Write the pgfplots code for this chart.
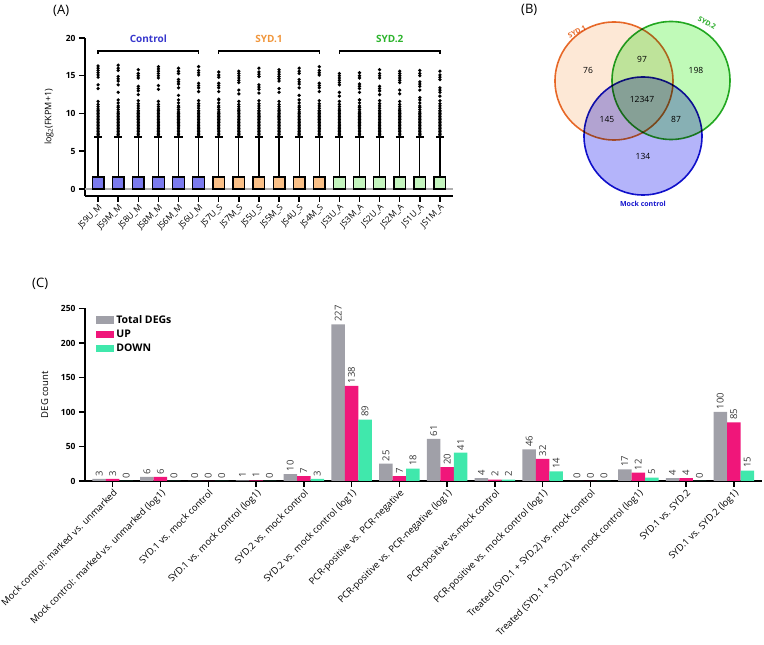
\documentclass[border=0pt]{standalone}
\usepackage{pgfplots}
\usepackage{pgfplotstable}
\usepackage{fontspec}
\setmainfont{Open Sans}
\setsansfont{Open Sans}
\pgfplotsset{compat=1.18}
\usepgfplotslibrary{statistics}
\pgfkeys{/pgf/number format/assume math mode=true}

\definecolor{boxctrl}{RGB}{122,122,238}
\definecolor{boxsyda}{RGB}{250,192,135}
\definecolor{boxsydb}{RGB}{196,245,190}
\definecolor{labctrl}{RGB}{55,55,205}
\definecolor{labsyda}{RGB}{240,150,60}
\definecolor{labsydb}{RGB}{45,180,45}
\definecolor{vennor}{RGB}{232,110,45}
\definecolor{venngr}{RGB}{40,170,40}
\definecolor{vennbl}{RGB}{20,20,205}
\definecolor{fillor}{RGB}{253,232,214}
\definecolor{fillgr}{RGB}{192,250,184}
\definecolor{fillbl}{RGB}{180,180,250}
\definecolor{degtot}{RGB}{160,160,168}
\definecolor{degup}{RGB}{240,22,122}
\definecolor{degdown}{RGB}{64,232,172}
\definecolor{zeroline}{RGB}{175,175,175}
\definecolor{vallab}{RGB}{55,55,55}

\pgfplotsset{
  gpaxis/.style={
    scale only axis, axis lines=left,
    axis line style={-, line width=1.5pt},
    tick align=outside, major tick length=6pt,
    every tick/.style={black, line width=1.5pt},
    yticklabel style={font=\fontsize{8.5}{10}\selectfont\bfseries},
    clip=false,
  },
  sample/.style 2 args={
    boxplot/draw direction=y,
    boxplot prepared={draw position=#1, lower whisker=0, lower quartile=0,
      median=0, upper quartile=1.6, upper whisker=6.9,
      box extend=0.58, whisker extend=0.4},
    draw=black, line width=1.3pt, fill=#2,
    mark=*, mark size=0.9pt, mark options={fill=black, draw=none},
  },
  degbar/.style={fill=#1, draw=none,
    legend image code/.code={\fill[#1] (0pt,-3.7pt) rectangle (18pt,3.7pt);}},
  venn/.style 2 args={only marks, mark=*, mark size=59pt,
    mark options={fill=#1, draw=#2, line width=1.6pt, blend mode=multiply}},
}

% outliers of each sample (columns b1..b18), log2(FKPM+1)
\pgfplotstableread{
b1 b2 b3 b4 b5 b6 b7 b8 b9 b10 b11 b12 b13 b14 b15 b16 b17 b18
7.0 7.0 7.0 7.0 7.0 7.0 7.0 7.0 7.0 7.0 7.0 7.0 7.0 7.0 7.0 7.0 7.0 7.0
7.2 7.2 7.2 7.2 7.2 7.2 7.2 7.2 7.2 7.2 7.2 7.2 7.2 7.2 7.2 7.2 7.2 7.2
7.4 7.4 7.4 7.4 7.4 7.4 7.4 7.4 7.4 7.4 7.4 7.4 7.4 7.4 7.4 7.4 7.4 7.4
7.6 7.6 7.6 7.6 7.6 7.6 7.6 7.6 7.6 7.6 7.6 7.6 7.6 7.6 7.6 7.6 7.6 7.6
7.8 7.8 7.8 7.8 7.8 7.8 7.8 7.8 7.8 7.8 7.8 7.8 7.8 7.8 7.8 7.8 7.8 7.8
8.0 8.0 8.0 8.0 8.0 8.0 8.0 8.0 8.0 8.0 8.0 8.0 8.0 8.0 8.0 8.0 8.0 8.0
8.2 8.2 8.2 8.2 8.2 8.2 8.2 8.2 8.2 8.2 8.2 8.2 8.2 8.2 8.2 8.2 8.2 8.2
8.4 8.4 8.4 8.4 8.4 8.4 8.4 8.4 8.4 8.4 8.4 8.4 8.4 8.4 8.4 8.4 8.4 8.4
8.6 8.6 8.6 8.6 8.6 8.6 8.6 8.6 8.6 8.6 8.6 8.6 8.6 8.6 8.6 8.6 8.6 8.6
8.8 8.8 8.8 8.8 8.8 8.8 8.8 8.8 8.8 8.8 8.8 8.8 8.8 8.8 8.8 8.8 8.8 8.8
9.0 9.0 9.0 9.0 9.0 9.0 9.0 9.0 9.0 9.0 9.0 9.0 9.0 9.0 9.0 9.0 9.0 9.0
9.2 9.2 9.2 9.2 9.2 9.2 9.2 9.2 9.2 9.2 9.2 9.2 9.2 9.2 9.2 9.2 9.2 9.2
9.4 9.4 9.4 9.4 9.4 9.4 9.4 9.4 9.4 9.4 9.4 9.4 9.4 9.4 9.4 9.4 9.4 9.4
9.6 9.6 9.6 9.6 9.6 9.6 9.6 9.6 9.6 9.6 9.6 9.6 9.6 9.6 9.6 9.6 9.6 9.6
9.8 9.8 9.8 9.8 9.8 9.8 9.8 9.8 9.8 9.8 9.8 9.8 9.8 9.8 9.8 9.8 9.8 9.8
10.0 10.0 10.0 10.0 10.0 10.0 10.0 10.0 10.0 10.0 10.0 10.0 10.0 10.0 10.0 10.0 10.0 10.0
10.2 10.2 10.2 10.2 10.2 10.2 10.2 10.2 10.2 10.2 10.2 10.2 10.2 10.2 10.2 10.2 10.2 10.2
10.4 10.5 10.4 10.4 10.5 10.4 10.5 10.4 10.4 10.4 10.5 10.4 10.4 10.5 10.4 10.4 10.5 10.4
10.6 10.8 10.7 10.6 10.8 10.7 10.8 10.6 10.7 10.6 10.8 10.7 10.6 10.8 10.7 10.6 10.8 10.7
10.9 11.0 11.0 10.9 11.0 11.0 11.0 10.9 11.0 10.9 11.0 11.0 10.9 11.0 11.0 10.9 11.0 11.0
11.2 11.4 11.3 11.2 11.4 11.3 11.4 11.2 11.3 11.2 11.4 11.3 11.2 11.4 11.3 11.2 11.4 11.3
11.6 11.8 11.7 11.6 11.8 11.7 11.8 11.6 11.7 11.6 11.8 11.7 11.6 11.8 11.7 11.6 11.8 11.7
13.3 12.8 12.5 13.2 12.4 12.9 11.9 12.6 12.7 12.8 12.4 12.9 12.3 11.8 12.5 12.6 12.1 12.3
13.8 13.8 13.0 13.7 13.4 13.4 12.9 13.1 13.2 13.3 13.4 13.4 12.8 12.8 13.0 13.1 13.1 12.8
14.8 14.3 13.3 14.7 13.9 13.7 13.4 14.1 13.5 14.3 13.9 13.7 13.8 13.3 13.3 14.1 13.6 13.1
15.1 14.6 13.6 15.0 14.2 14.0 13.7 14.4 13.8 14.6 14.2 14.0 14.1 13.6 13.6 14.4 13.9 13.4
15.4 14.9 14.7 15.3 14.5 15.1 14.0 14.7 14.9 14.9 14.5 15.1 14.4 13.9 14.7 14.7 14.2 14.5
15.7 15.7 15.0 15.6 15.3 15.4 14.8 15.0 15.2 15.2 15.3 15.4 14.7 14.7 15.0 15.0 15.0 14.8
16.0 16.0 15.3 15.9 15.6 15.7 15.1 15.3 15.5 15.5 15.6 15.7 15.0 15.0 15.3 15.3 15.3 15.1
16.3 16.4 15.8 16.2 16.0 16.2 15.5 15.6 16.0 15.8 16.0 16.2 15.3 15.4 15.8 15.6 15.7 15.6
}\outliers

% DEG counts per comparison
\pgfplotstableread{
x total up down
0 3 3 0
1 6 6 0
2 0 0 0
3 1 1 0
4 10 7 3
5 227 138 89
6 25 7 18
7 61 20 41
8 4 2 2
9 46 32 14
10 0 0 0
11 17 12 5
12 4 4 0
13 100 85 15
}\degs

\begin{document}
\begin{tikzpicture}
\useasboundingbox (0pt,0pt) rectangle (764pt,645pt);

% ---------- (A) expression box plots ----------
\begin{axis}[gpaxis,
  at={(85pt,449pt)}, anchor=south west,
  width=368pt, height=158pt,
  xmin=0.35, xmax=18.65, ymin=-0.93, ymax=20,
  ytick={0,5,10,15,20},
  xtick={1,...,18},
  xticklabels={JS9U\_M,JS9M\_M,JS8U\_M,JS8M\_M,JS6M\_M,JS6U\_M,
    JS7U\_S,JS7M\_S,JS5U\_S,JS5M\_S,JS4U\_S,JS4M\_S,
    JS3U\_A,JS3M\_A,JS2U\_A,JS2M\_A,JS1U\_A,JS1M\_A},
  xticklabel style={rotate=45, anchor=north east, inner sep=1pt,
    font=\fontsize{8.5}{10}\selectfont},
  ylabel={log\textsubscript{2}(FKPM+1)},
  ylabel style={at={(axis description cs:-0.076,0.5)}, anchor=south,
    font=\fontsize{9}{11}\selectfont},
]
\addplot[zeroline, line width=2.5pt] coordinates {(0.35,0) (18.65,0)};
\addplot[sample={1}{boxctrl}] table[y=b1] {\outliers};
\addplot[sample={2}{boxctrl}] table[y=b2] {\outliers};
\addplot[sample={3}{boxctrl}] table[y=b3] {\outliers};
\addplot[sample={4}{boxctrl}] table[y=b4] {\outliers};
\addplot[sample={5}{boxctrl}] table[y=b5] {\outliers};
\addplot[sample={6}{boxctrl}] table[y=b6] {\outliers};
\addplot[sample={7}{boxsyda}] table[y=b7] {\outliers};
\addplot[sample={8}{boxsyda}] table[y=b8] {\outliers};
\addplot[sample={9}{boxsyda}] table[y=b9] {\outliers};
\addplot[sample={10}{boxsyda}] table[y=b10] {\outliers};
\addplot[sample={11}{boxsyda}] table[y=b11] {\outliers};
\addplot[sample={12}{boxsyda}] table[y=b12] {\outliers};
\addplot[sample={13}{boxsydb}] table[y=b13] {\outliers};
\addplot[sample={14}{boxsydb}] table[y=b14] {\outliers};
\addplot[sample={15}{boxsydb}] table[y=b15] {\outliers};
\addplot[sample={16}{boxsydb}] table[y=b16] {\outliers};
\addplot[sample={17}{boxsydb}] table[y=b17] {\outliers};
\addplot[sample={18}{boxsydb}] table[y=b18] {\outliers};
% group brackets
\addplot[black, line width=1.5pt] coordinates {(1,17.9) (1,18.25) (6,18.25) (6,17.9)};
\addplot[black, line width=1.5pt] coordinates {(7,17.9) (7,18.25) (12,18.25) (12,17.9)};
\addplot[black, line width=1.5pt] coordinates {(13,17.9) (13,18.25) (18,18.25) (18,17.9)};
\node[font=\fontsize{10}{12}\selectfont\bfseries, text=labctrl] at (axis cs:3.5,19.9) {Control};
\node[font=\fontsize{10}{12}\selectfont\bfseries, text=labsyda] at (axis cs:9.5,19.9) {SYD.1};
\node[font=\fontsize{10}{12}\selectfont\bfseries, text=labsydb] at (axis cs:15.5,19.9) {SYD.2};
\end{axis}

% ---------- (B) Venn diagram ----------
\begin{axis}[
  at={(550pt,440pt)}, anchor=south west, scale only axis,
  width=190pt, height=190pt,
  xmin=550, xmax=740, ymin=15, ymax=205, y dir=reverse,
  hide axis, clip=false,
]
\addplot[venn={fillor}{vennor}] coordinates {(614,81)};
\addplot[venn={fillgr}{venngr}] coordinates {(671,80.5)};
\addplot[venn={fillbl}{vennbl}] coordinates {(643,136)};
\node[font=\fontsize{8.5}{10}\selectfont] at (axis cs:588,70) {76};
\node[font=\fontsize{8.5}{10}\selectfont] at (axis cs:642,59) {97};
\node[font=\fontsize{8.5}{10}\selectfont] at (axis cs:696,70) {198};
\node[font=\fontsize{8.5}{10}\selectfont] at (axis cs:642,99) {12347};
\node[font=\fontsize{8.5}{10}\selectfont] at (axis cs:607,119) {145};
\node[font=\fontsize{8.5}{10}\selectfont] at (axis cs:676,119) {87};
\node[font=\fontsize{8.5}{10}\selectfont] at (axis cs:643,156) {134};
\node[font=\fontsize{7}{8}\selectfont\bfseries, text=vennor, rotate=28] at (axis cs:577,32) {SYD.1};
\node[font=\fontsize{7}{8}\selectfont\bfseries, text=venngr, rotate=-30] at (axis cs:707,23) {SYD.2};
\node[font=\fontsize{7}{8}\selectfont\bfseries, text=vennbl] at (axis cs:643,204) {Mock control};
\end{axis}

% ---------- (C) DEG counts ----------
\begin{axis}[gpaxis,
  at={(85pt,164pt)}, anchor=south west,
  width=677pt, height=172.5pt,
  ybar=0pt, bar width=13.5pt,
  xmin=-0.58, xmax=13.59, ymin=0, ymax=250,
  ytick={0,50,...,250},
  xtick={0,...,13},
  xticklabels={Mock control: marked vs. unmarked,
    Mock control: marked vs. unmarked (log1),
    SYD.1 vs. mock control,
    SYD.1 vs. mock control (log1),
    SYD.2 vs. mock control,
    SYD.2 vs. mock control (log1),
    PCR-positive vs. PCR-negative,
    PCR-positive vs. PCR-negative (log1),
    PCR-positive vs.mock control,
    PCR-positive vs. mock control (log1),
    Treated (SYD.1 + SYD.2) vs. mock control,
    Treated (SYD.1 + SYD.2) vs. mock control (log1),
    SYD.1 vs. SYD.2,
    SYD.1 vs. SYD.2 (log1)},
  xticklabel style={rotate=45, anchor=north east, inner sep=1pt,
    font=\fontsize{9.4}{11}\selectfont},
  ylabel={DEG count},
  ylabel style={at={(axis description cs:-0.049,0.5)}, anchor=south,
    font=\fontsize{9.5}{11}\selectfont},
  nodes near coords,
  nodes near coords style={rotate=90, anchor=west, inner sep=2.5pt,
    font=\fontsize{9.5}{11}\selectfont, text=vallab},
  legend style={at={(0.012,0.985)}, anchor=north west, draw=none, fill=none,
    font=\fontsize{10.5}{12}\selectfont\bfseries, row sep=1pt,
    cells={anchor=west}},
]
\addplot[degbar=degtot] table[x=x, y=total] {\degs};
\addplot[degbar=degup] table[x=x, y=up] {\degs};
\addplot[degbar=degdown] table[x=x, y=down] {\degs};
\legend{Total DEGs, UP, DOWN}
\end{axis}

\node[font=\fontsize{13}{15}\selectfont, anchor=west, inner sep=0pt] at (53pt,634pt) {(A)};
\node[font=\fontsize{13}{15}\selectfont, anchor=west, inner sep=0pt] at (521pt,635pt) {(B)};
\node[font=\fontsize{13}{15}\selectfont, anchor=west, inner sep=0pt] at (32pt,361pt) {(C)};
\end{tikzpicture}
\end{document}
